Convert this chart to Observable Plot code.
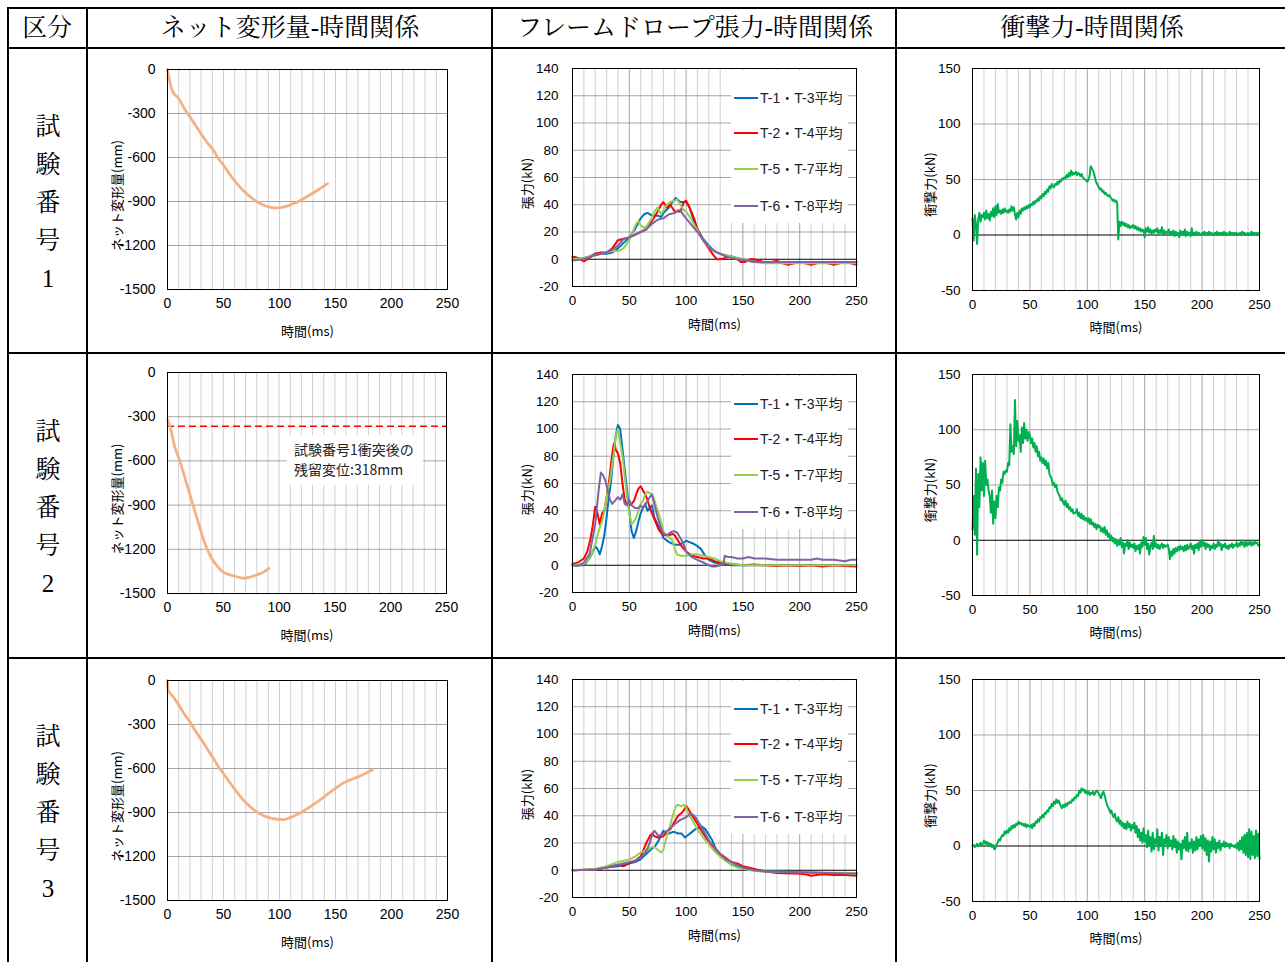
<!DOCTYPE html>
<html><head><meta charset="utf-8">
<script src="https://cdn.jsdelivr.net/npm/d3@7"></script>
<script src="https://cdn.jsdelivr.net/npm/@observablehq/plot@0.6"></script>
<style>
body{margin:0;background:#fff;width:1285px;height:962px;overflow:hidden;position:relative;font-family:"Liberation Sans",Arial,"Noto Sans CJK JP",sans-serif;}
.abs{position:absolute;}
.hl{position:absolute;background:#000;height:2px;}
.vl{position:absolute;background:#000;width:2px;}
.ser{position:absolute;font-family:"Liberation Serif","Noto Serif CJK JP","Noto Sans CJK JP",serif;font-size:25px;line-height:25px;text-align:center;white-space:nowrap;color:#000;}
.leg{position:absolute;background:#fff;}
.legi{position:absolute;left:3px;height:14px;font-size:14px;line-height:14px;white-space:nowrap;font-family:"Liberation Sans",Arial,"Noto Sans CJK JP",sans-serif;color:#222;}
.legi span.ln{display:inline-block;width:24px;height:2px;vertical-align:middle;margin-right:2px;position:relative;top:-1px;}
.note{position:absolute;background:#fff;font-family:"Noto Sans CJK JP",sans-serif;font-size:14px;line-height:20px;color:#222;padding:4px 0 0 7px;box-sizing:border-box;white-space:nowrap;}
</style></head>
<body>
<script>
// ---------- text ----------
const headers = ["区分", "ネット変形量-時間関係", "フレームドロープ張力-時間関係", "衝撃力-時間関係"];
const rowChars = ["試", "験", "番", "号"];
const testNos = ["1", "2", "3"];
const seriesNames = ["T-1・T-3平均", "T-2・T-4平均", "T-5・T-7平均", "T-6・T-8平均"];
const xLabel = "時間(ms)";
const deformLabel = "ネット変形量(mm)";
const tensionLabel = "張力(kN)";
const impactLabel = "衝撃力(kN)";
const noteLines = ["試験番号1衝突後の", "残留変位:318mm"];

// ---------- ticks ----------
const timeTicks = [0, 50, 100, 150, 200, 250];
const deformTicks = [0, -300, -600, -900, -1200, -1500];
const tensionTicks = [-20, 0, 20, 40, 60, 80, 100, 120, 140];
const impactTicks = [-50, 0, 50, 100, 150];

// ---------- net deformation [ms, mm] ----------
const deform1 = [[0,0],[1,-40],[2,-80],[3,-115],[5,-154],[7,-175],[9,-190],[11,-211],[15,-265],[20,-324],[25,-380],[30,-438],[35,-494],[41,-551],[45,-603],[50,-653],[56,-718],[62,-778],[68,-828],[74,-869],[80,-902],[86,-926],[92,-940],[98,-944],[104,-937],[110,-922],[116,-903],[122,-878],[128,-851],[135,-818],[143,-778]];
const deform2 = [[0,-318],[1,-340],[2.4,-370],[4,-420],[5.4,-472],[8,-540],[11.4,-608],[15,-700],[20.4,-835],[25,-955],[29.4,-1062],[33,-1150],[36.9,-1221],[40,-1268],[44.4,-1312],[50.4,-1357],[55,-1372],[59.4,-1380],[64,-1390],[68.4,-1396],[74,-1388],[80.4,-1373],[86,-1355],[91,-1330]];
const deform3 = [[0,0],[0.6,-64],[5.4,-114],[11.3,-182],[15,-230],[20.3,-284],[25,-345],[30.7,-409],[36,-472],[41.2,-534],[45,-583],[50.1,-636],[56,-700],[62,-761],[66,-800],[71,-841],[75,-868],[80,-898],[86,-922],[91.9,-939],[98,-946],[103.8,-948],[110,-933],[115.8,-914],[122,-888],[127.7,-859],[134,-826],[139.6,-795],[145,-763],[151.5,-727],[156,-703],[160.5,-686],[165,-672],[169.5,-659],[176,-636],[182.9,-609]];
const residualLine2 = -365;

// ---------- frame rope tension [ms, kN] ----------
const ten1_13 = [[0,0],[5,0],[10,1],[15,2],[20,4],[25,4],[30,4],[35,5],[40,8],[45,12],[50,16],[55,22],[60,30],[63,33],[66,34],[70,32],[75,32],[78,31],[80,34],[85,38],[88,42],[91,45],[95,42],[100,42],[103,38],[107,28],[110,22],[115,15],[120,10],[125,6],[130,4],[135,3],[140,2],[145,1],[150,0],[155,-1],[160,-1.5],[170,-2],[200,-2],[250,-2]];
const ten1_24 = [[0,2],[5,1],[10,-1.5],[15,1],[20,4],[25,5],[30,5],[35,8],[40,14],[45,15],[50,16],[55,18],[60,20],[65,22],[70,28],[75,35],[78,40],[80,42],[83,38],[86,40],[90,35],[95,35],[98,42],[100,43],[103,38],[107,30],[110,22],[115,14],[120,8],[124,3],[127,0],[130,0],[135,1],[140,2],[145,0],[148,-2],[152,-2],[156,0],[160,0],[165,-1],[170,-3],[175,-2],[180,-1],[185,-3],[190,-4],[195,-3],[200,-2],[205,-3],[210,-4],[215,-3],[220,-2],[225,-3],[230,-4],[235,-3],[240,-2],[245,-3],[250,-4]];
const ten1_57 = [[0,0],[10,1],[20,3],[30,5],[35,6],[40,6],[45,8],[50,14],[53,20],[56,26],[58,28],[60,25],[63,23],[65,24],[70,30],[72,35],[75,38],[78,33],[80,36],[83,40],[86,42],[90,43],[92,44],[95,40],[98,36],[100,35],[104,30],[108,24],[112,18],[116,13],[120,9],[125,6],[130,4],[135,3],[140,2],[145,1],[150,0],[160,-2],[170,-3],[200,-3],[250,-3]];
const ten1_68 = [[0,-1],[10,0],[20,3],[30,5],[35,7],[40,10],[45,15],[50,16],[55,18],[60,20],[65,22],[70,26],[75,29],[80,30],[85,33],[90,34],[93,36],[95,36],[98,32],[102,28],[106,24],[110,20],[115,14],[120,9],[125,6],[130,4],[135,2],[140,1],[145,0],[150,-0.5],[160,-2],[170,-2],[200,-2],[250,-2]];

const ten2_13 = [[0,0],[5,0],[10,0],[12,2],[15,5],[18,10],[20,14],[22,12],[24,8],[26,14],[28,22],[30,35],[32,50],[34,62],[36,80],[38,95],[40,103],[42,100],[44,85],[46,70],[48,55],[50,40],[52,25],[54,20],[56,25],[58,32],[60,38],[62,42],[64,45],[66,40],[68,42],[70,44],[72,35],[75,30],[78,25],[80,20],[85,17],[90,15],[95,15],[100,18],[103,17],[106,16],[110,14],[113,12],[116,8],[120,4],[125,2],[130,1],[140,0],[150,0],[200,0],[250,0]];
const ten2_24 = [[0,1],[5,2],[10,5],[13,10],[16,20],[18,30],[20,43],[22,38],[24,30],[26,38],[28,40],[30,50],[32,60],[34,75],[36,88],[37,90],[38,85],[40,82],[42,75],[44,60],[46,48],[48,45],[50,44],[52,45],[54,47],[56,52],[58,56],[60,58],[62,55],[64,52],[66,48],[68,42],[70,38],[73,32],[76,26],[80,22],[85,22],[88,23],[90,22],[93,18],[96,14],[100,10],[105,7],[110,6],[115,5],[120,5],[125,3],[130,2],[140,1],[150,0],[160,0.5],[170,0],[180,-0.5],[190,0],[200,-0.5],[210,0],[220,-1],[230,0],[240,-0.5],[250,-1]];
const ten2_57 = [[0,0],[10,1],[15,5],[20,15],[23,25],[25,30],[27,35],[30,50],[33,62],[36,80],[38,95],[40,100],[42,90],[44,80],[46,65],[48,50],[50,38],[52,30],[54,32],[56,35],[58,40],[60,45],[62,47],[64,52],[66,54],[68,53],[70,52],[72,48],[75,40],[78,32],[80,25],[83,22],[86,20],[88,18],[90,12],[92,8],[95,7],[100,7],[105,8],[110,8],[115,7],[120,6],[125,5],[130,3],[140,1],[150,0],[200,0],[250,0]];
const ten2_68 = [[0,0],[5,-0.5],[10,2],[15,8],[20,30],[23,55],[25,68],[27,66],[29,62],[31,55],[33,48],[35,45],[38,48],[40,50],[42,48],[44,52],[46,45],[48,44],[50,48],[52,44],[55,42],[58,42],[60,44],[62,42],[64,45],[66,47],[68,50],[70,52],[72,45],[75,35],[78,27],[80,23],[83,22],[86,24],[89,25],[92,24],[95,20],[98,15],[100,10],[105,6],[110,4],[115,2],[120,0],[123,-1],[126,-1],[130,0],[133,1],[134,7],[137,6],[140,6],[145,5],[150,5],[155,6],[160,5],[170,5],[180,4],[190,4],[200,4],[210,4],[215,5],[220,4],[230,4],[240,3],[245,4],[250,4]];

const ten3_13 = [[0,0],[20,0.5],[30,2],[40,3],[50,5],[55,6],[60,8],[65,12],[70,16],[73,18],[76,22],[78,26],[80,29],[82,28],[85,27],[88,28],[90,28],[93,27],[96,27],[99,24],[102,26],[105,28],[108,30],[111,31],[114,32],[117,30],[120,26],[123,22],[126,16],[130,11],[135,7],[140,4],[145,3],[150,1],[160,0],[170,-0.5],[180,-1],[200,-1.5],[220,-2],[250,-2]];
const ten3_24 = [[0,0],[20,0.5],[30,2],[40,4],[45,3],[50,5],[55,7],[60,10],[65,20],[68,25],[70,27],[72,25],[75,24],[80,25],[83,28],[86,30],[90,36],[93,40],[96,42],[98,44],[100,47],[102,45],[104,42],[107,38],[110,34],[115,27],[120,21],[125,16],[130,12],[135,9],[140,6],[145,5],[150,3],[155,2],[160,1],[170,-1],[180,-2],[200,-2.5],[205,-3],[210,-4],[215,-3.5],[220,-3],[230,-3.5],[240,-3.5],[250,-4]];
const ten3_57 = [[0,0],[20,1],[30,3],[40,6],[45,7],[50,8],[55,10],[60,13],[65,15],[70,17],[72,17],[75,15],[78,13],[80,15],[83,25],[86,33],[89,42],[91,47],[93,48],[96,47],[98,48],[100,46],[103,40],[106,36],[110,30],[115,24],[120,19],[125,14],[130,10],[135,7],[140,4],[145,2],[150,1],[160,-0.5],[170,-1],[200,-1.5],[250,-2]];
const ten3_68 = [[0,0],[20,0.5],[30,2],[40,4],[50,6],[55,7],[60,9],[65,14],[68,20],[70,26],[72,29],[74,27],[76,25],[78,26],[80,27],[85,30],[90,34],[95,37],[100,39],[103,41],[106,41],[109,38],[112,34],[116,28],[120,22],[125,17],[130,12],[135,8],[140,6],[145,4],[150,2],[160,0],[170,-1],[200,-1.5],[250,-2.5]];

// ---------- impact force, sampled every 1 ms from 0 to 250 ms [kN] ----------
const impactStepMs = 1;
const impact1 = [
15,-5,18,10,-8,14,20,12,18,16,
20,14,22,15,19,13,21,17,24,16,
26,18,28,20,22,19,23,20,24,21,
22,20,23,21,26,22,25,18,14,20,
16,22,19,24,22,25,23,26,24,27,
25,28,27,30,28,31,30,33,31,35,
33,37,35,39,37,41,39,44,42,46,
44,43,46,45,48,46,49,48,51,50,
52,51,54,52,56,53,58,54,56,55,
57,54,56,55,53,55,52,51,50,49,
48,50,53,62,60,58,55,50,47,45,
43,41,42,39,40,37,38,36,35,36,
34,33,31,32,30,31,29,-4,12,8,
12,9,11,8,10,7,9,6,8,7,
9,6,8,5,7,4,6,3,5,4,
-2,6,3,7,2,5,1,4,2,5,
3,6,1,4,2,7,0,4,1,3,
2,5,0,3,1,4,-1,3,0,2,
-2,4,1,3,0,5,-1,3,1,2,
-1,6,0,2,1,3,0,2,1,0,
2,0,3,1,2,0,3,1,2,1,
0,2,1,3,0,2,1,2,0,3,
1,2,0,1,3,1,2,0,2,1,
2,0,1,2,0,3,1,2,0,1,
2,0,1,3,0,2,1,2,0,2,
2];
const impact2 = [
10,40,5,65,-13,60,30,75,45,70,
40,72,50,55,45,40,25,45,15,35,
20,40,30,48,45,55,52,62,60,63,
62,70,68,105,80,85,78,127,85,108,
90,95,80,102,88,106,92,100,90,98,
95,88,92,84,88,80,85,76,80,72,
75,70,74,68,72,65,70,60,58,55,
50,52,48,50,44,42,40,36,38,34,
32,36,30,33,28,30,26,28,24,25,
25,28,22,25,20,24,19,22,18,20,
17,20,15,19,14,16,12,15,10,14,
12,13,8,11,7,12,5,9,3,6,
0,4,-1,2,-3,1,-5,0,-4,2,
-6,-2,-12,-3,-5,0,-8,-2,-6,-4,
-7,-3,-10,-5,-8,-4,-12,-2,-6,3,
-4,2,-8,-3,-13,-5,-2,-8,4,-6,
-3,-7,-4,-8,-5,-3,-7,-4,-6,-5,
-4,-8,-17,-10,-14,-8,-12,-7,-10,-6,
-9,-5,-8,-6,-10,-5,-9,-4,-8,-6,
-3,-8,-5,-12,-4,-7,-3,-9,-1,-6,
0,-5,-2,-8,-3,-6,-4,-9,-5,-7,
-3,-8,-4,-6,0,-5,-3,-9,-4,-6,
-3,-7,-5,-8,-4,-6,-3,-7,-4,-5,
-2,-6,-3,-5,0,-4,-2,-6,-1,-5,
-2,-4,-1,-5,-2,-4,-1,-3,-2,-5,
-4];
const impact3 = [
0,1,-1,0,2,0,1,3,1,2,
5,2,4,1,3,0,2,-1,1,-3,
-2,1,3,6,5,8,10,9,13,11,
14,12,16,14,18,16,19,17,20,19,
22,20,21,19,20,18,20,17,19,18,
17,19,16,20,18,22,21,24,22,26,
25,28,26,30,29,32,31,35,34,38,
36,40,38,42,39,41,38,36,34,37,
35,38,36,39,38,40,39,42,41,44,
43,46,45,50,48,52,50,51,48,50,
47,49,46,48,47,49,46,48,50,49,
47,45,43,47,49,46,42,38,35,33,
30,32,28,26,29,24,22,26,20,23,
18,21,16,20,15,22,17,20,14,19,
16,21,12,18,8,15,5,12,3,16,
4,10,-1,14,0,8,-5,12,-3,6,
2,15,-4,8,0,12,-8,6,2,10,
-2,8,0,5,-3,9,-1,6,-6,4,
-3,2,-12,5,-2,8,-4,12,-5,3,
-2,6,-6,4,-4,8,-3,6,0,9,
-2,10,-4,7,-8,5,-14,4,-5,8,
-3,6,-6,3,-2,5,-4,2,0,4,
-1,3,0,2,-2,2,1,0,-1,1,
-2,3,-4,5,-3,8,-6,10,-8,12,
-10,15,-12,13,-8,9,-11,14,-9,11,
-12];

// ---------- styles ----------
const tensionColors = ["#0070C0", "#FF0000", "#92D050", "#8064A2"];
const deformColor = "#F4B183";
const impactColor = "#00B050";

// ---------- layout ----------
const cols = [{x0: 88, w: 404}, {x0: 493, w: 403}, {x0: 897, w: 388}];
const rowsG = [{y0: 49, h: 304}, {y0: 354, h: 304}, {y0: 659, h: 303}];
const frames = [
  [{l:167,r:447,t:69,b:289},{l:572,r:856,t:68,b:286},{l:972,r:1259,t:68,b:290}],
  [{l:167,r:446,t:372,b:593},{l:572,r:856,t:374,b:592},{l:972,r:1259,t:374,b:595}],
  [{l:167,r:447,t:680,b:900},{l:572,r:856,t:679,b:897},{l:972,r:1259,t:679,b:901}]
];
const majorX = [50, 100, 150, 200];
const minorX = d3.range(10, 250, 10).filter(v => v % 50 !== 0);
const cjk = '"Noto Sans CJK JP", sans-serif';

function addDiv(cls, left, top, html, extra) {
  const d = document.createElement("div");
  d.className = cls;
  d.style.left = left + "px";
  d.style.top = top + "px";
  if (html != null) d.innerHTML = html;
  if (extra) Object.assign(d.style, extra);
  document.body.appendChild(d);
  return d;
}

function makeChart(r, c, cfg) {
  const col = cols[c], row = rowsG[r], f = frames[r][c];
  const svg = Plot.plot({
    width: col.w, height: row.h,
    marginLeft: f.l - col.x0, marginRight: col.x0 + col.w - f.r,
    marginTop: f.t - row.y0, marginBottom: row.y0 + row.h - f.b,
    x: {domain: [0, 250], ticks: timeTicks, tickSize: 0, tickPadding: 9, label: null, tickFormat: d => String(d)},
    y: {domain: cfg.yDomain, ticks: cfg.yTicks, tickSize: 0, tickPadding: cfg.yPad, label: null, tickFormat: d => String(d)},
    style: {fontFamily: '"Liberation Sans", Arial, sans-serif', fontSize: cfg.fs, color: "#000", background: "none", overflow: "visible"},
    marks: [
      Plot.ruleX(minorX, {stroke: "#d0d0d0", strokeWidth: 1}),
      Plot.ruleX(majorX, {stroke: cfg.majorColor, strokeWidth: 1}),
      Plot.ruleY(cfg.yTicks.filter(v => v !== 0), {stroke: "#a6a6a6", strokeWidth: 1}),
      cfg.zeroBlack ? Plot.ruleY([0], {stroke: "#000", strokeWidth: 1}) : null,
      ...cfg.marks,
      Plot.frame({stroke: "#000", strokeWidth: 1}),
      Plot.text([xLabel], {frameAnchor: "bottom", dy: cfg.xLabDy, lineAnchor: "middle", textAnchor: "middle", fontFamily: cjk, fontSize: 13, fill: "#000"}),
      Plot.text([cfg.yLabel], {frameAnchor: "left", dx: cfg.yLabDx, dy: cfg.yLabDy, rotate: -90, textAnchor: "middle", lineAnchor: "middle", fontFamily: cjk, fontSize: 13, fill: "#000"})
    ]
  });
  const wrap = addDiv("abs", col.x0, row.y0);
  wrap.appendChild(svg);
}

// ---------- table ----------
[8, 48, 353, 658].forEach(y => addDiv("hl", 7, y - 1, null, {width: "1280px"}));
[8, 87, 492, 896].forEach(x => addDiv("vl", x - 1, 7, null, {height: "960px"}));
const headerX = [47, 290, 695, 1092];
headers.forEach((h, i) => addDiv("ser", headerX[i] - 200, 15, h, {width: "400px"}));
const charY = [126, 164, 202, 240, 278];
const rowOffsets = [0, 305, 610];
rowOffsets.forEach((off, r) => {
  [...rowChars, testNos[r]].forEach((ch, k) => addDiv("ser", 8, charY[k] + off - 12, ch, {width: "80px"}));
});

// ---------- charts ----------
const deformData = [deform1, deform2, deform3];
const tensionData = [[ten1_13, ten1_24, ten1_57, ten1_68], [ten2_13, ten2_24, ten2_57, ten2_68], [ten3_13, ten3_24, ten3_57, ten3_68]];
const impactData = [impact1, impact2, impact3];

for (let r = 0; r < 3; r++) {
  // net deformation
  const dm = [Plot.line(deformData[r], {x: d => d[0], y: d => d[1], stroke: deformColor, strokeWidth: 2.8, curve: "monotone-x"})];
  if (r === 1) dm.unshift(Plot.ruleY([residualLine2], {stroke: "#FF0000", strokeWidth: 1.5, strokeDasharray: "7,4"}));
  makeChart(r, 0, {yDomain: [-1500, 0], yTicks: deformTicks, yPad: 12, majorColor: "#d0d0d0", zeroBlack: false, fs: "14px",
    marks: dm, yLabel: deformLabel, xLabDy: 42, yLabDx: -50, yLabDy: 16});

  // tension
  const tm = tensionData[r].map((s, k) => Plot.line(s, {x: d => d[0], y: d => d[1], stroke: tensionColors[k], strokeWidth: 2}));
  makeChart(r, 1, {yDomain: [-20, 140], yTicks: tensionTicks, yPad: 14, majorColor: "#a6a6a6", zeroBlack: true, fs: "13.5px",
    marks: tm, yLabel: tensionLabel, xLabDy: 38, yLabDx: -45, yLabDy: 6});

  // impact
  const idata = impactData[r].map((v, i) => ({t: i * impactStepMs, v}));
  makeChart(r, 2, {yDomain: [-50, 150], yTicks: impactTicks, yPad: 12, majorColor: "#a6a6a6", zeroBlack: true, fs: "13.5px",
    marks: [Plot.line(idata, {x: "t", y: "v", stroke: impactColor, strokeWidth: 2})], yLabel: impactLabel, xLabDy: 37, yLabDx: -42, yLabDy: 5});

  // legend overlay
  const f = frames[r][1];
  const leg = addDiv("leg", 731, f.t + 2, null, {width: "117px", height: "153px"});
  const itemDy = [30, 65, 101, 138];
  seriesNames.forEach((nm, k) => {
    const it = document.createElement("div");
    it.className = "legi";
    it.style.top = (itemDy[k] - 2 - 7) + "px";
    it.innerHTML = `<span class="ln" style="background:${tensionColors[k]}"></span>${nm}`;
    leg.appendChild(it);
  });
}

// annotation box for test 2
addDiv("note", 287, 435, noteLines.join("<br>"), {width: "136px", height: "50px"});
</script>
</body></html>
